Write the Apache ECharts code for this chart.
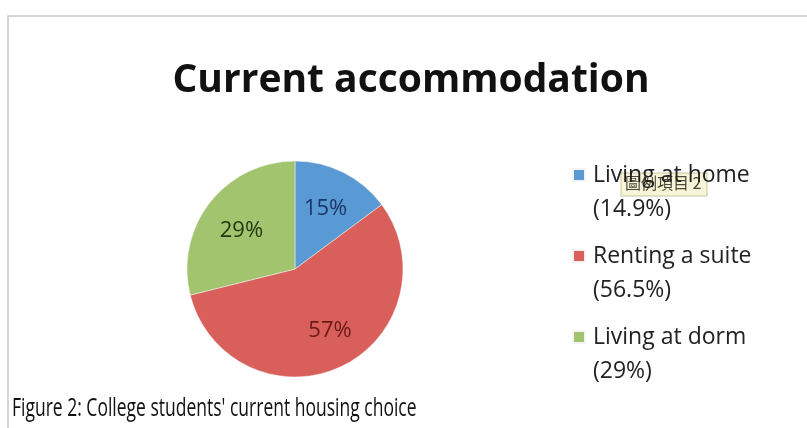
<!DOCTYPE html>
<html>
<head>
<meta charset="utf-8">
<script src="https://cdn.jsdelivr.net/npm/echarts@6/dist/echarts.min.js"></script>
<style>
  html, body { margin: 0; padding: 0; background: #fff; }
  #chart { width: 807px; height: 428px; }
</style>
</head>
<body>
<div id="chart"></div>
<script>
const categories = ['Living at home', 'Renting a suite', 'Living at dorm'];
const shares = [14.9, 56.5, 29];
const shareLabels = ['14.9%', '56.5%', '29%'];
const sliceColors = ['#5a9ad4', '#d9605a', '#a3c46f'];
const labelColors = ['#1c3668', '#6a1a18', '#23380f'];

const FONT = "'Open Sans', 'Noto Sans', sans-serif";
const total = shares.reduce((a, b) => a + b, 0);

// mid angle of each slice, clockwise from 12 o'clock
const midAngles = [];
let acc = 0;
shares.forEach(v => {
	midAngles.push((acc + v / 2) / total * 2 * Math.PI);
	acc += v;
});

const chart = echarts.init(document.getElementById('chart'));

chart.setOption({
	animation: false,
	title: {
		text: 'Current accommodation',
		left: 411,
		textAlign: 'center',
		top: 61,
		padding: 0,
		textStyle: { fontFamily: FONT, fontWeight: 'bold', fontSize: 39, color: '#111' }
	},
	legend: {
		orient: 'vertical',
		left: 572,
		top: 124,
		padding: 0,
		itemWidth: 12,
		itemHeight: 12,
		itemGap: -21,
		icon: 'rect',
		data: categories,
		formatter: name => '\n' + name + '\n(' + shareLabels[categories.indexOf(name)] + ')',
		textStyle: { fontFamily: FONT, fontSize: 23, lineHeight: 34, color: '#222', padding: [0, 0, 0, 3] }
	},
	graphic: [
		{
			type: 'rect',
			shape: { x: 8, y: 16, width: 820, height: 430 },
			style: { fill: 'none', stroke: '#c8c8c8', lineWidth: 1.5 },
			z: -1
		},
		{
			type: 'text',
			x: 12,
			y: 396,
			scaleX: 0.7,
			style: { text: "Figure 2: College students' current housing choice", fontFamily: FONT, fontSize: 25, fill: '#111' }
		},
		{
			type: 'group',
			x: 621,
			y: 173,
			z: 100,
			children: [
				{ type: 'rect', shape: { x: 0, y: 0, width: 86, height: 23 }, style: { fill: '#f8f4d8', stroke: '#c9c4a4', lineWidth: 1 } },
				{ type: 'text', x: 4, y: 2, style: { text: '圖例項目 2', fontFamily: "'Noto Sans CJK TC', sans-serif", fontSize: 16, fill: '#4a4838' } }
			]
		}
	],
	series: [{
		type: 'pie',
		center: [295, 269],
		radius: 108,
		startAngle: 90,
		clockwise: true,
		data: categories.map((c, i) => ({
			name: c,
			value: shares[i],
			itemStyle: { color: sliceColors[i] },
			label: { color: labelColors[i] }
		})),
		label: {
			show: true,
			position: 'inside',
			formatter: p => Math.round(p.value) + '%',
			fontFamily: FONT,
			fontSize: 22
		},
		labelLayout: p => {
			const a = midAngles[p.dataIndex];
			return { dx: 11 * Math.sin(a) + (p.dataIndex === 1 ? 6 : 0), dy: -11 * Math.cos(a) + (p.dataIndex === 2 ? 4 : 0) };
		},
		itemStyle: { borderColor: '#f4f4f4', borderWidth: 0.5 },
		emphasis: { disabled: true }
	}]
});
</script>
</body>
</html>
